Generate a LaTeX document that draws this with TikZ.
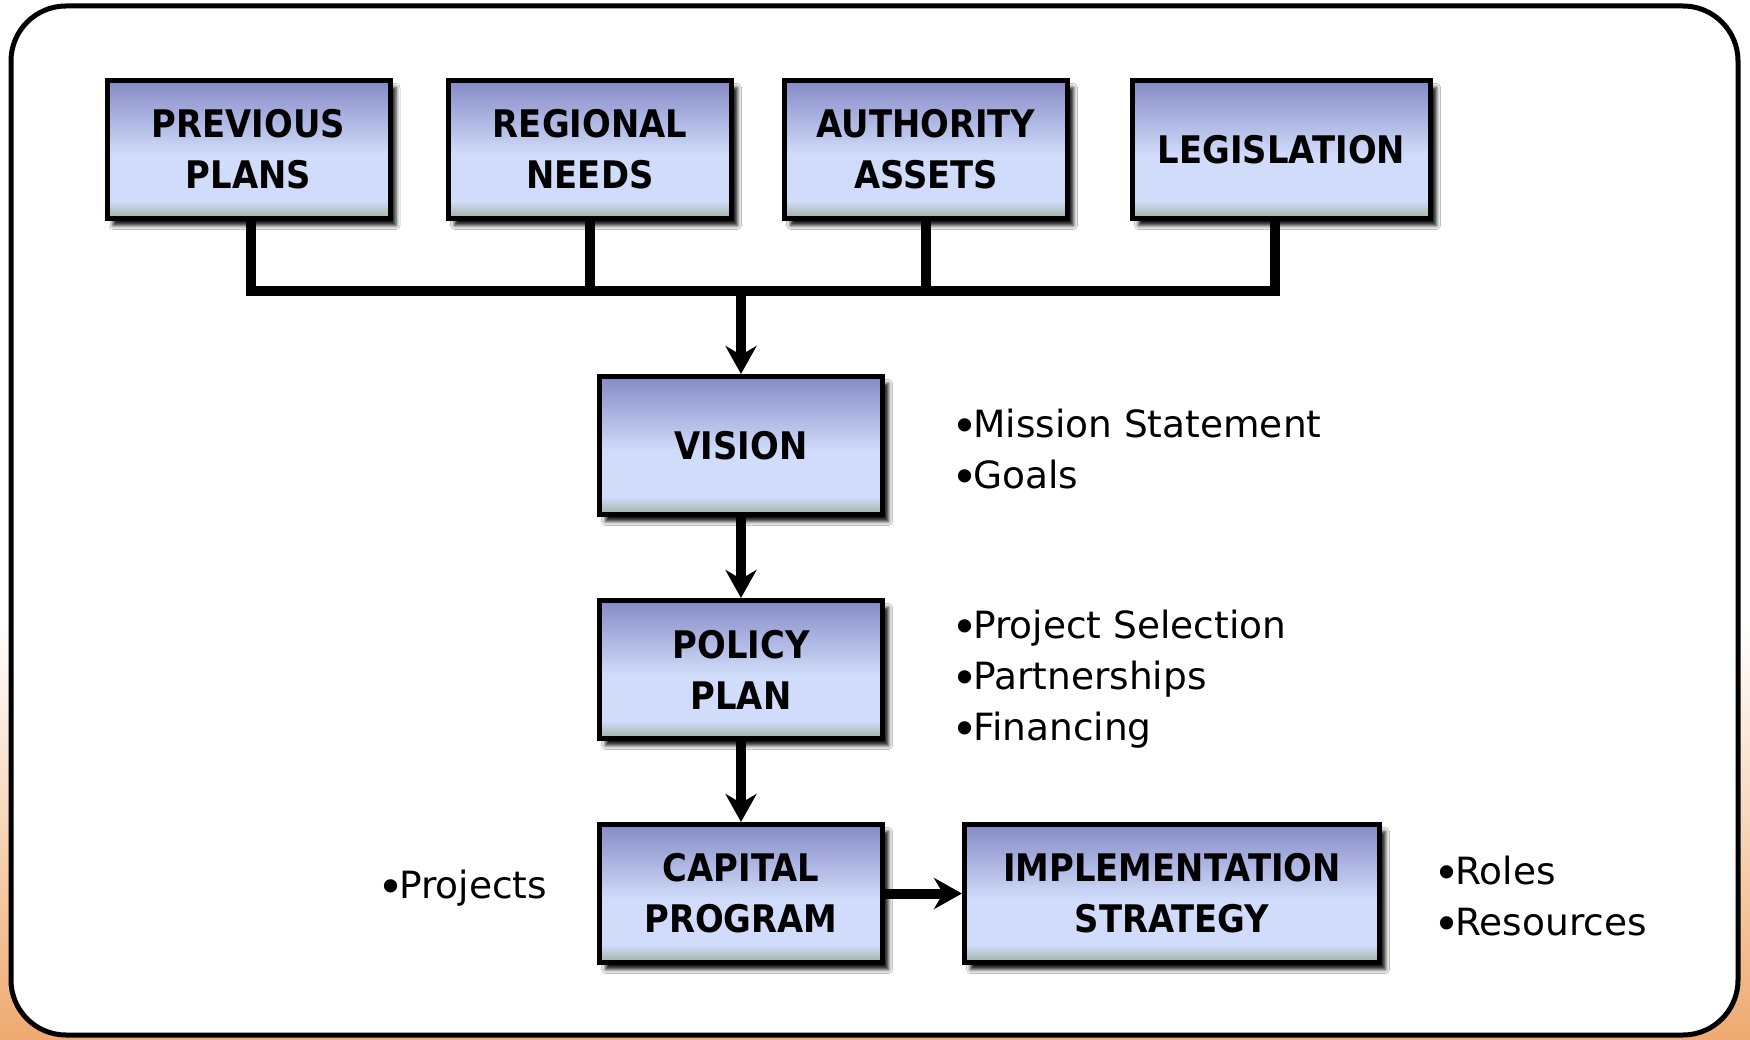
\documentclass[tikz,border=0pt]{standalone}
\usepackage{fontspec}
\setmainfont{DejaVu Sans}
\newfontfamily\boxfont[FakeStretch=0.89]{DejaVu Sans Bold}
\newfontfamily\bulfont{Liberation Sans}
\usetikzlibrary{arrows.meta,shadows.blur}
\definecolor{btop}{RGB}{134,138,198}
\definecolor{bmid}{RGB}{208,220,250}
\definecolor{bbot}{RGB}{160,178,164}
\definecolor{bgor}{RGB}{239,170,112}
\pgfdeclareverticalshading{boxshade}{100bp}{color(0bp)=(bbot); color(25bp)=(bbot); color(31.5bp)=(bmid); color(48bp)=(bmid); color(75bp)=(btop); color(100bp)=(btop)}
\pgfdeclareverticalshading{bgshade}{100bp}{color(0bp)=(bgor); color(25bp)=(bgor); color(45bp)=(white); color(100bp)=(white)}
\newcommand{\bul}{\raisebox{-4pt}{\scalebox{1.3}{\bulfont •}}}
\begin{document}
\begin{tikzpicture}[x=1pt,y=-1pt,
  stepbox/.style={draw=black, line width=5pt, shade, shading=boxshade,
    minimum width=283pt, minimum height=138pt, inner sep=0pt, align=center,
    font=\boxfont\fontsize{38}{51}\selectfont,
    blur shadow={shadow xshift=6pt, shadow yshift=-7pt, shadow blur radius=4pt, shadow opacity=92}},
  conn/.style={line width=10pt},
  arr/.style={line width=10pt, -{Stealth[length=28pt,width=31pt,inset=9pt]}},
  notes/.style={anchor=base west, align=left, inner sep=0pt, font=\fontsize{37.5}{51}\selectfont}]
\shade[shading=bgshade] (0,0) rectangle (1750,1040);
\useasboundingbox (0,0) rectangle (1750,1040);
\draw[line width=5pt, fill=white, rounded corners=55pt] (11,6) rectangle (1738,1035);

\node[stepbox] (prev) at (248.5,149.5) {PREVIOUS\\PLANS};
\node[stepbox] (regional) at (590,149.5) {REGIONAL\\NEEDS};
\node[stepbox] (authority) at (926,149.5) {AUTHORITY\\ASSETS};
\node[stepbox, minimum width=298pt] (legis) at (1281.5,149.5) {LEGISLATION};
\node[stepbox] (vision) at (741,445.5) {VISION};
\node[stepbox] (policy) at (741,669.5) {POLICY\\PLAN};
\node[stepbox] (capital) at (741,893.5) {CAPITAL\\PROGRAM};
\node[stepbox, minimum width=415pt] (impl) at (1172,893.5) {IMPLEMENTATION\\STRATEGY};

\coordinate (busL) at (251,291);
\coordinate (busR) at (1275,291);
\draw[conn] (busL |- prev.south) -- (busL);
\draw[conn] (regional.south) -- (regional.south |- busL);
\draw[conn] (authority.south) -- (authority.south |- busL);
\draw[conn] (busR |- legis.south) -- (busR);
\draw[conn, line cap=rect] (busL) -- (busR);

\draw[arr] (vision.north |- busL) -- (vision.north);
\draw[arr] (vision.south) -- (policy.north);
\draw[arr] (policy.south) -- (capital.north);
\draw[arr] (capital.east) -- (impl.west);

\node[notes] (visionnotes) at (956,488) {\bul Mission Statement\\\bul Goals};
\node[notes] (policynotes) at (956,740) {\bul Project Selection\\\bul Partnerships\\\bul Financing};
\node[notes] (capitalnotes) at (382,898) {\bul Projects};
\node[notes] (implnotes) at (1438,935) {\bul Roles\\\bul Resources};
\end{tikzpicture}
\end{document}
